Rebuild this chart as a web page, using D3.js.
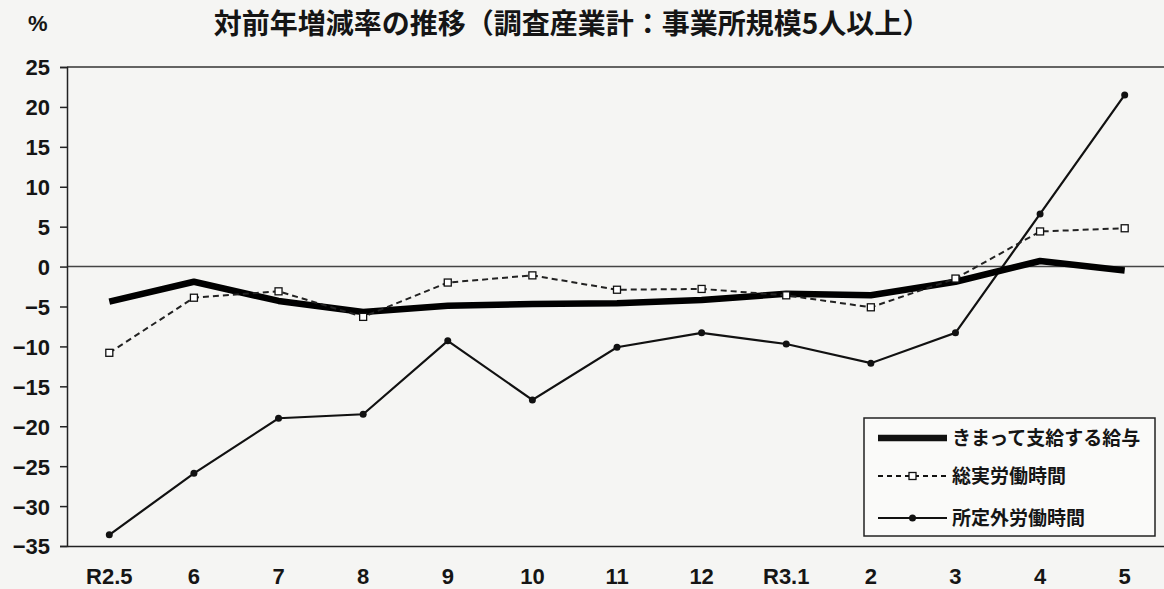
<!DOCTYPE html>
<html>
<head>
<meta charset="utf-8">
<script src="https://cdn.jsdelivr.net/npm/d3@7"></script>
<style>
  body { margin: 0; background: #f5f5f3; }
  svg { display: block; }
  .tick text { font-family: "Liberation Sans", Arial, sans-serif; font-size: 22px; font-weight: bold; fill: #151515; }
</style>
</head>
<body>
<svg width="1164" height="589"></svg>
<script>
const months = ['R2.5', '6', '7', '8', '9', '10', '11', '12', 'R3.1', '2', '3', '4', '5'];
const yTicks = [25, 20, 15, 10, 5, 0, -5, -10, -15, -20, -25, -30, -35];

// 対前年増減率 (%)
const scheduledPay = [-4.4, -1.9, -4.3, -5.7, -4.9, -4.7, -4.6, -4.2, -3.4, -3.6, -1.9, 0.7, -0.5];
const totalHours   = [-10.8, -3.9, -3.1, -6.3, -2.0, -1.1, -2.9, -2.8, -3.6, -5.1, -1.5, 4.4, 4.8];
const overtimeHrs  = [-33.6, -25.9, -19.0, -18.5, -9.3, -16.7, -10.1, -8.3, -9.7, -12.1, -8.3, 6.6, 21.5];

const svg = d3.select('svg');
const margin = { top: 67, right: 0, bottom: 43, left: 67 };
const width = 1164 - margin.left - margin.right;
const height = 589 - margin.top - margin.bottom;
const g = svg.append('g').attr('transform', `translate(${margin.left},${margin.top})`);

const x = d3.scaleBand().domain(months).range([0, width + 3]);
const y = d3.scaleLinear().domain([-35, 25]).range([height, 0]);
const cx = d => x(d) + x.bandwidth() / 2;

// title
svg.append('text')
    .attr('x', 28).attr('y', 31)
    .attr('font-family', '"Liberation Sans", Arial, sans-serif')
    .attr('font-size', 22).attr('font-weight', 'bold').attr('fill', '#151515')
    .text('%');
svg.append('text')
    .attr('x', 572).attr('y', 34)
    .attr('text-anchor', 'middle')
    .attr('font-family', '"Noto Sans CJK JP", sans-serif')
    .attr('font-size', 28).attr('font-weight', 'bold').attr('fill', '#151515')
    .text('対前年増減率の推移（調査産業計：事業所規模5人以上）');

// top border and zero line
g.append('line').attr('x1', 0).attr('x2', width).attr('y1', 0).attr('y2', 0)
    .attr('stroke', '#333').attr('stroke-width', 1.5);
g.append('line').attr('x1', 0).attr('x2', width).attr('y1', y(0)).attr('y2', y(0))
    .attr('stroke', '#444').attr('stroke-width', 1.5);

// axes
const yAxis = g.append('g')
    .call(d3.axisLeft(y).tickValues(yTicks).tickSize(7).tickPadding(10)
        .tickFormat(d => d < 0 ? '\u2212' + Math.abs(d) : d));
const xAxis = g.append('g')
    .attr('transform', `translate(0,${height})`)
    .call(d3.axisBottom(x).tickSize(0).tickPadding(22));
[yAxis, xAxis].forEach(a => {
    a.select('.domain').attr('stroke', '#222').attr('stroke-width', 1.5);
    a.selectAll('.tick line').attr('stroke', '#222').attr('stroke-width', 1.5);
});
yAxis.selectAll('.tick text').attr('dy', '0.36em');

const line = d3.line().x((d, i) => cx(months[i])).y(d => y(d));

// 所定外労働時間
g.append('path').datum(overtimeHrs).attr('d', line)
    .attr('fill', 'none').attr('stroke', '#111').attr('stroke-width', 2.2);
g.selectAll('.dot').data(overtimeHrs).enter().append('circle')
    .attr('cx', (d, i) => cx(months[i])).attr('cy', d => y(d)).attr('r', 3.5).attr('fill', '#111');

// きまって支給する給与
g.append('path').datum(scheduledPay).attr('d', line)
    .attr('fill', 'none').attr('stroke', '#000').attr('stroke-width', 6.5).attr('stroke-linejoin', 'round');

// 総実労働時間
g.append('path').datum(totalHours).attr('d', line)
    .attr('fill', 'none').attr('stroke', '#222').attr('stroke-width', 2).attr('stroke-dasharray', '6,4');
g.selectAll('.sq').data(totalHours).enter().append('rect')
    .attr('x', (d, i) => cx(months[i]) - 3.5).attr('y', d => y(d) - 3.5)
    .attr('width', 7).attr('height', 7)
    .attr('fill', '#fff').attr('stroke', '#111').attr('stroke-width', 1.3);

// legend
const lg = svg.append('g').attr('transform', 'translate(864,418)');
lg.append('rect').attr('width', 291).attr('height', 118)
    .attr('fill', '#fafaf9').attr('stroke', '#222').attr('stroke-width', 1.5);
const items = [
    { name: 'きまって支給する給与', w: 6.5, dash: null, mark: null, ty: 20 },
    { name: '総実労働時間', w: 2, dash: '5,4', mark: 'sq', ty: 58 },
    { name: '所定外労働時間', w: 2.2, dash: null, mark: 'dot', ty: 100 }
];
items.forEach(it => {
    lg.append('line').attr('x1', 14).attr('x2', 83).attr('y1', it.ty).attr('y2', it.ty)
        .attr('stroke', '#111').attr('stroke-width', it.w).attr('stroke-dasharray', it.dash);
    if (it.mark === 'sq') {
        lg.append('rect').attr('x', 45).attr('y', it.ty - 3.5).attr('width', 7).attr('height', 7)
            .attr('fill', '#fff').attr('stroke', '#111').attr('stroke-width', 1.3);
    } else if (it.mark === 'dot') {
        lg.append('circle').attr('cx', 48.5).attr('cy', it.ty).attr('r', 3.5).attr('fill', '#111');
    }
    lg.append('text').attr('x', 88).attr('y', it.ty).attr('dy', '0.36em')
        .attr('font-family', '"Noto Sans CJK JP", sans-serif')
        .attr('font-size', 19).attr('font-weight', 'bold').attr('fill', '#151515')
        .text(it.name);
});
</script>
</body>
</html>
